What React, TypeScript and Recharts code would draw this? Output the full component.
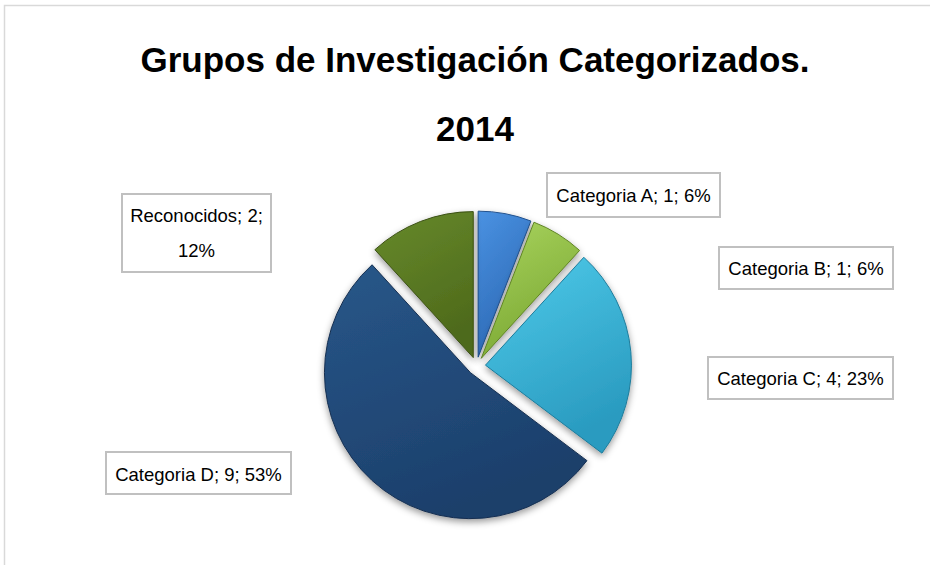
import { Cell, Pie, PieChart } from "recharts";

const CATEGORIES = ["Categoria A", "Categoria B", "Categoria C", "Categoria D", "Reconocidos"];
const VALUES = [1, 1, 4, 9, 2];
const PERCENT_LABELS = [6, 6, 23, 53, 12];

const TITLE = "Grupos de Investigación Categorizados.";
const SUBTITLE = "2014";

// gradient top / bottom per slice
const COLOR_TOP = ["#4a92e2", "#a9d45e", "#4fcbea", "#285789", "#678a2c"];
const COLOR_BOTTOM = ["#2c68b4", "#7ca934", "#2a9bc0", "#1c3f6b", "#4e6a1b"];
const COLOR_EDGE = ["#22528f", "#5f8424", "#1f7c9b", "#142e50", "#3b5013"];

const FONT = '"Liberation Sans", Arial, sans-serif';
const CX = 471.5;
const CY = 361;
const RADIUS = 146;
const EXPLODE = 9;

// label boxes placed like the original (x, y, w, h, text baselines)
const LABEL_BOXES = [
  { x: 547, y: 173, w: 173, h: 44, base: [202] },
  { x: 719, y: 247, w: 174, h: 42, base: [275] },
  { x: 708, y: 357, w: 185, h: 42, base: [385] },
  { x: 106, y: 452, w: 185, h: 42, base: [481] },
  { x: 122, y: 194, w: 149, h: 78, base: [222, 257] },
];

const data = CATEGORIES.map((name, i) => ({ name, value: VALUES[i] }));
const total = VALUES.reduce((a, b) => a + b, 0);

const offsets = VALUES.map((v, i) => {
  const before = VALUES.slice(0, i).reduce((a, b) => a + b, 0);
  const mid = ((90 - (360 * (before + v / 2)) / total) * Math.PI) / 180;
  return { dx: EXPLODE * Math.cos(mid), dy: -EXPLODE * Math.sin(mid) };
});

function labelLines(i: number) {
  if (LABEL_BOXES[i].base.length > 1) {
    return [`${CATEGORIES[i]}; ${VALUES[i]};`, `${PERCENT_LABELS[i]}%`];
  }
  return [`${CATEGORIES[i]}; ${VALUES[i]}; ${PERCENT_LABELS[i]}%`];
}

export default function App() {
  return (
    <div style={{ position: "absolute", left: 0, top: 0, width: 930, height: 565, background: "#fff", overflow: "hidden" }}>
      <PieChart width={930} height={565} style={{ position: "absolute", left: 0, top: 0 }}>
        <defs>
          {COLOR_TOP.map((c, i) => (
            <linearGradient key={i} id={`grad${i}`} x1="0" y1="0" x2="0.4" y2="1">
              <stop offset="0%" stopColor={c} />
              <stop offset="100%" stopColor={COLOR_BOTTOM[i]} />
            </linearGradient>
          ))}
          <filter id="shadow" x="-20%" y="-20%" width="140%" height="140%">
            <feDropShadow dx="0" dy="3" stdDeviation="3.5" floodColor="#000" floodOpacity="0.4" />
          </filter>
        </defs>
        {VALUES.map((_, i) => (
          <Pie
            key={i}
            data={data}
            dataKey="value"
            nameKey="name"
            cx={CX + offsets[i].dx}
            cy={CY + offsets[i].dy}
            outerRadius={RADIUS}
            startAngle={90}
            endAngle={-270}
            stroke="none"
            isAnimationActive={false}
          >
            {data.map((_, j) => (
              <Cell
                key={j}
                fill={j === i ? `url(#grad${j})` : "transparent"}
                stroke={j === i ? COLOR_EDGE[j] : "none"}
                strokeWidth={j === i ? 1 : 0}
                filter={j === i ? "url(#shadow)" : undefined}
              />
            ))}
          </Pie>
        ))}
      </PieChart>

      <svg width={930} height={565} style={{ position: "absolute", left: 0, top: 0, pointerEvents: "none" }}>
        <path d="M4.5 565 L4.5 5.5 L930 5.5" fill="none" stroke="#d9d9d9" strokeWidth={1.5} />
        <text x={475} y={72} textAnchor="middle" fontFamily={FONT} fontWeight="bold" fontSize={35} fill="#000">
          {TITLE}
        </text>
        <text x={475} y={141} textAnchor="middle" fontFamily={FONT} fontWeight="bold" fontSize={35} fill="#000">
          {SUBTITLE}
        </text>
        {LABEL_BOXES.map((b, i) => (
          <g key={i}>
            <rect x={b.x} y={b.y} width={b.w} height={b.h} fill="#fff" stroke="#c0c0c0" strokeWidth={2} />
            {labelLines(i).map((line, k) => (
              <text key={k} x={b.x + b.w / 2} y={b.base[k]} textAnchor="middle" fontFamily={FONT} fontSize={18.5} fill="#000">
                {line}
              </text>
            ))}
          </g>
        ))}
      </svg>
    </div>
  );
}
